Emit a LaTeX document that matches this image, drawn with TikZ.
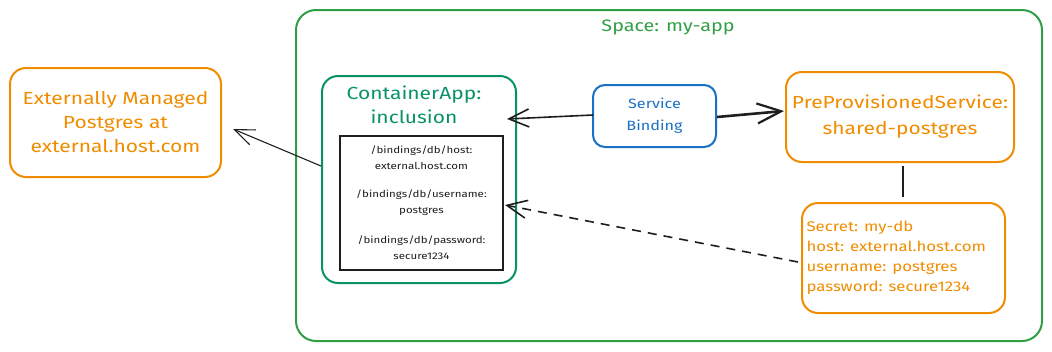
\documentclass[tikz,border=0pt]{standalone}
\usepackage{fontspec}
\setmainfont{Fira Sans}[FakeStretch=1.2]
\usetikzlibrary{arrows.meta}
\definecolor{spacegreen}{HTML}{2F9E44}
\definecolor{appgreen}{HTML}{099268}
\definecolor{svcorange}{HTML}{F08C00}
\definecolor{bindblue}{HTML}{1971C2}
\definecolor{ink}{HTML}{1E1E1E}
\tikzset{
  box/.style={draw, rounded corners=16pt, line width=2pt, align=center, inner sep=0pt},
  orangebox/.style={box, draw=svcorange, text=svcorange},
  label/.style={font=\fontsize{17.5}{24}\selectfont},
  filetext/.style={text=ink, font=\fontsize{9.6}{16}\selectfont, align=center},
  conn/.style={draw=ink, line width=1.6pt},
  barb/.style={-{Straight Barb[length=20pt,width=18pt,line width=1.6pt]}}
}
\begin{document}
\begin{tikzpicture}[x=1pt,y=-1pt]
\useasboundingbox (0,0) rectangle (1052,351);

% outer space
\node[box, draw=spacegreen, rounded corners=20pt, minimum width=746pt, minimum height=331pt] (space) at (669,175.5) {};
\node[text=spacegreen, font=\fontsize{16.5}{20}\selectfont] (spacelbl) at (668,27) {Space: my-app};

% external database
\node[orangebox, label, minimum width=211pt, minimum height=109pt] (ext) at (115.5,122.5)
  {Externally Managed\\Postgres at\\external.host.com};

% container app
\node[box, draw=appgreen, minimum width=194pt, minimum height=207pt] (app) at (419,179.5) {};
\node[text=appgreen, label, align=center] (apptitle) at (414,105) {ContainerApp:\\inclusion};
\node[draw=ink, line width=1.6pt, minimum width=163pt, minimum height=134pt, inner sep=0pt] (files) at (421.5,203) {};
\node[filetext] (f1) at (421.5,158) {/bindings/db/host:\\external.host.com};
\node[filetext] (f2) at (421.5,203) {/bindings/db/username:\\postgres};
\node[filetext] (f3) at (421.5,248) {/bindings/db/password:\\secure1234};

% service binding
\node[box, draw=bindblue, text=bindblue, rounded corners=12pt, minimum width=123pt, minimum height=62pt,
  font=\fontsize{13.5}{22}\selectfont] (sb) at (654.5,116) {Service\\Binding};

% pre-provisioned service
\node[orangebox, font=\fontsize{17.5}{26}\selectfont, minimum width=228pt, minimum height=90pt] (pps) at (900,117)
  {PreProvisionedService:\\shared-postgres};

% secret
\node[orangebox, minimum width=203pt, minimum height=110pt] (secret) at (903.5,258) {};
\node[text=svcorange, font=\fontsize{14}{20}\selectfont, align=left, anchor=west] (sectext) at (803,258)
  {Secret: my-db\\host: external.host.com\\username: postgres\\password: secure1234};

% connectors
\coordinate (sbL) at (593,115);
\coordinate (appR) at (507,119);
\draw[conn, barb] (sbL) -- (appR);
\coordinate (sbR) at (717,117);
\coordinate (ppsL) at (784,111);
\draw[conn, line width=2.6pt, -{Straight Barb[length=24pt,width=20pt,line width=2.2pt]}] (sbR) -- (ppsL);
\coordinate (ppsB) at (903,166);
\coordinate (secT) at (903,197);
\draw[conn, line width=2.2pt] (ppsB) -- (secT);
\coordinate (secL) at (798,262);
\coordinate (filesR) at (505,205);
\draw[conn, dashed, dash pattern=on 9pt off 7pt, barb] (secL) -- (filesR);
\coordinate (appL) at (321,166);
\coordinate (extR) at (233,129);
\draw[conn, line width=1.1pt, -{Straight Barb[length=20pt,width=16pt,line width=1.1pt]}] (appL) -- (extR);
\end{tikzpicture}
\end{document}
